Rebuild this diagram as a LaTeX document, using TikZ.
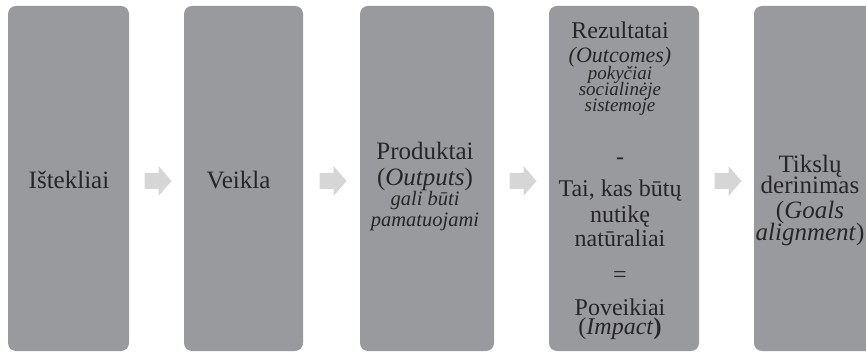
\documentclass[tikz,border=0pt]{standalone}
\usepackage{fontspec}
\setmainfont{Liberation Serif}
\usetikzlibrary{calc}
\definecolor{stagegray}{HTML}{999A9E}
\definecolor{flowgray}{HTML}{D6D6D6}
\definecolor{inkgray}{HTML}{262626}
\newcommand{\subnote}[1]{{\itshape\fontsize{19}{0}\selectfont #1}}
\newcommand{\midnote}[1]{{\itshape\fontsize{20.5}{0}\selectfont #1}}
\lineskiplimit=-100pt

\begin{document}
\begin{tikzpicture}[x=1pt,y=1pt,stage/.style={rectangle,draw=none,fill=stagegray,rounded corners=8pt,minimum height=345pt,inner sep=0},flow/.style={draw=none,fill=flowgray},caption/.style={text=inkgray,align=center,inner sep=0,font=\fontsize{25}{0}\selectfont}]
  \useasboundingbox (0,0) rectangle (866,353);
  \node[stage,minimum width=121pt] (s1) at (68.5,174.5) {};
  \node[stage,minimum width=119pt] (s2) at (243.5,174.5) {};
  \node[stage,minimum width=134pt] (s3) at (427,174.5) {};
  \node[stage,minimum width=150pt] (s4) at (624,174.5) {};
  \node[stage,minimum width=124pt] (s5) at (816,174.5) {};
  \foreach \a/\b [count=\i] in {s1/s2,s2/s3,s3/s4,s4/s5}{
    \coordinate (f\i) at ($(\a.east)!0.5!(\b.west)+(1.5,-2.5)$);
    \path[flow] ($(f\i)+(-13.5,8)$) -- ($(f\i)+(0.5,8)$) -- ($(f\i)+(0.5,15)$) -- ($(f\i)+(13.5,0)$) -- ($(f\i)+(0.5,-15)$) -- ($(f\i)+(0.5,-8)$) -- ($(f\i)+(-13.5,-8)$) -- cycle;
  }
  \node[caption,anchor=base] (t1) at (69,164) {Ištekliai};
  \node[caption,anchor=base] (t2) at (238.5,164) {Veikla};
  \node[caption,anchor=north] (t3) at (425,211.1) {Produktai\\[26pt] (\textit{Outputs})\\[20pt] \midnote{gali būti}\\[21pt] \midnote{pamatuojami}};
  \node[caption,anchor=north,font=\fontsize{24}{0}\selectfont] (t4) at (620,331) {Rezultatai\\[24pt] {\itshape\fontsize{22}{0}\selectfont(Outcomes)}\\[16.5pt] \subnote{pokyčiai}\\[16.5pt] \subnote{socialinėje}\\[15.5pt] \subnote{sistemoje}\\[53.5pt] -\\[31.5pt] Tai, kas būtų\\[26.5pt] nutikę\\[23.5pt] natūraliai\\[36pt] =\\[33.5pt] Poveikiai\\[19pt] (\textit{Impact}\textbf{)}};
  \node[caption,anchor=north] (t5) at (810,198) {Tikslų\\[21pt] derinimas\\[25pt] (\textit{Goals}\\[22pt] \textit{alignment})};
\end{tikzpicture}
\end{document}
